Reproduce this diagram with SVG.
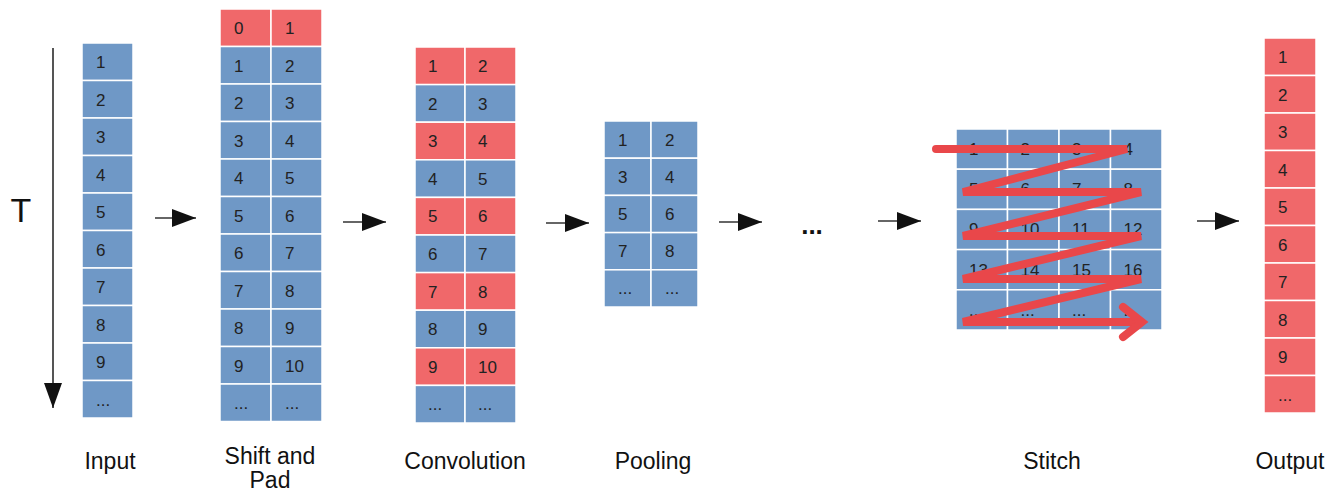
<svg xmlns="http://www.w3.org/2000/svg" width="1329" height="493" viewBox="0 0 1329 493">
<style>
.b{fill:#6f98c6;stroke:#fff;stroke-width:1.5}
.r{fill:#f0686a;stroke:#fff;stroke-width:1.5}
.n{font-family:"Liberation Sans",Arial,sans-serif;font-size:17px;fill:#222}
.lb{font-family:"Liberation Sans",Arial,sans-serif;font-size:23px;fill:#111;text-anchor:middle}
.ar{stroke:#333;stroke-width:1.6;fill:none;marker-end:url(#ah)}
.zz{fill:none;stroke:#e9474a;stroke-width:8;stroke-linejoin:miter;stroke-linecap:round}
</style>
<defs>
<marker id="ah" markerUnits="userSpaceOnUse" markerWidth="25" markerHeight="18" refX="24" refY="9" orient="auto">
<path d="M0,0 L24,9 L0,18 z" fill="#111"/>
</marker>
<marker id="ahT" markerUnits="userSpaceOnUse" markerWidth="26" markerHeight="18" refX="25" refY="9" orient="auto">
<path d="M0,0 L25,9 L0,18 z" fill="#111"/>
</marker>
</defs>
<rect width="1329" height="493" fill="#fff"/>

<g id="time-axis">
<line x1="53" y1="48" x2="53" y2="408" stroke="#555" stroke-width="2" marker-end="url(#ahT)"/>
<text x="21" y="222" font-family="Liberation Sans,Arial,sans-serif" font-size="34" fill="#111" text-anchor="middle">T</text>
</g>

<g id="input">
<rect class="b" x="82" y="43" width="51" height="37.5"/>
<rect class="b" x="82" y="80.5" width="51" height="37.5"/>
<rect class="b" x="82" y="118" width="51" height="37.5"/>
<rect class="b" x="82" y="155.5" width="51" height="37.5"/>
<rect class="b" x="82" y="193" width="51" height="37.5"/>
<rect class="b" x="82" y="230.5" width="51" height="37.5"/>
<rect class="b" x="82" y="268" width="51" height="37.5"/>
<rect class="b" x="82" y="305.5" width="51" height="37.5"/>
<rect class="b" x="82" y="343" width="51" height="37.5"/>
<rect class="b" x="82" y="380.5" width="51" height="37.5"/>
<g class="n">
<text x="96" y="68">1</text><text x="96" y="105.5">2</text><text x="96" y="143">3</text><text x="96" y="180.5">4</text><text x="96" y="218">5</text>
<text x="96" y="255.5">6</text><text x="96" y="293">7</text><text x="96" y="330.5">8</text><text x="96" y="368">9</text><text x="96" y="405.5">...</text>
</g>
<text class="lb" x="110" y="469">Input</text>
</g>

<g id="shift-and-pad">
<rect class="r" x="220" y="9" width="51" height="37.5"/><rect class="r" x="271" y="9" width="51" height="37.5"/>
<rect class="b" x="220" y="46.5" width="51" height="37.5"/><rect class="b" x="271" y="46.5" width="51" height="37.5"/>
<rect class="b" x="220" y="84" width="51" height="37.5"/><rect class="b" x="271" y="84" width="51" height="37.5"/>
<rect class="b" x="220" y="121.5" width="51" height="37.5"/><rect class="b" x="271" y="121.5" width="51" height="37.5"/>
<rect class="b" x="220" y="159" width="51" height="37.5"/><rect class="b" x="271" y="159" width="51" height="37.5"/>
<rect class="b" x="220" y="196.5" width="51" height="37.5"/><rect class="b" x="271" y="196.5" width="51" height="37.5"/>
<rect class="b" x="220" y="234" width="51" height="37.5"/><rect class="b" x="271" y="234" width="51" height="37.5"/>
<rect class="b" x="220" y="271.5" width="51" height="37.5"/><rect class="b" x="271" y="271.5" width="51" height="37.5"/>
<rect class="b" x="220" y="309" width="51" height="37.5"/><rect class="b" x="271" y="309" width="51" height="37.5"/>
<rect class="b" x="220" y="346.5" width="51" height="37.5"/><rect class="b" x="271" y="346.5" width="51" height="37.5"/>
<rect class="b" x="220" y="384" width="51" height="37.5"/><rect class="b" x="271" y="384" width="51" height="37.5"/>
<g class="n">
<text x="234" y="34">0</text><text x="285" y="34">1</text>
<text x="234" y="71.5">1</text><text x="285" y="71.5">2</text>
<text x="234" y="109">2</text><text x="285" y="109">3</text>
<text x="234" y="146.5">3</text><text x="285" y="146.5">4</text>
<text x="234" y="184">4</text><text x="285" y="184">5</text>
<text x="234" y="221.5">5</text><text x="285" y="221.5">6</text>
<text x="234" y="259">6</text><text x="285" y="259">7</text>
<text x="234" y="296.5">7</text><text x="285" y="296.5">8</text>
<text x="234" y="334">8</text><text x="285" y="334">9</text>
<text x="234" y="371.5">9</text><text x="285" y="371.5">10</text>
<text x="234" y="409">...</text><text x="285" y="409">...</text>
</g>
<text class="lb" x="270" y="464" font-size="22">Shift and</text>
<text class="lb" x="270" y="488" font-size="22">Pad</text>
</g>

<g id="convolution">
<rect class="r" x="415" y="47" width="50" height="37.6"/><rect class="r" x="465" y="47" width="51" height="37.6"/>
<rect class="b" x="415" y="84.6" width="50" height="37.6"/><rect class="b" x="465" y="84.6" width="51" height="37.6"/>
<rect class="r" x="415" y="122.2" width="50" height="37.6"/><rect class="r" x="465" y="122.2" width="51" height="37.6"/>
<rect class="b" x="415" y="159.8" width="50" height="37.6"/><rect class="b" x="465" y="159.8" width="51" height="37.6"/>
<rect class="r" x="415" y="197.4" width="50" height="37.6"/><rect class="r" x="465" y="197.4" width="51" height="37.6"/>
<rect class="b" x="415" y="235" width="50" height="37.6"/><rect class="b" x="465" y="235" width="51" height="37.6"/>
<rect class="r" x="415" y="272.6" width="50" height="37.6"/><rect class="r" x="465" y="272.6" width="51" height="37.6"/>
<rect class="b" x="415" y="310.2" width="50" height="37.6"/><rect class="b" x="465" y="310.2" width="51" height="37.6"/>
<rect class="r" x="415" y="347.8" width="50" height="37.6"/><rect class="r" x="465" y="347.8" width="51" height="37.6"/>
<rect class="b" x="415" y="385.4" width="50" height="37.6"/><rect class="b" x="465" y="385.4" width="51" height="37.6"/>
<g class="n">
<text x="428" y="72">1</text><text x="478" y="72">2</text>
<text x="428" y="109.6">2</text><text x="478" y="109.6">3</text>
<text x="428" y="147.2">3</text><text x="478" y="147.2">4</text>
<text x="428" y="184.8">4</text><text x="478" y="184.8">5</text>
<text x="428" y="222.4">5</text><text x="478" y="222.4">6</text>
<text x="428" y="260">6</text><text x="478" y="260">7</text>
<text x="428" y="297.6">7</text><text x="478" y="297.6">8</text>
<text x="428" y="335.2">8</text><text x="478" y="335.2">9</text>
<text x="428" y="372.8">9</text><text x="478" y="372.8">10</text>
<text x="428" y="410.4">...</text><text x="478" y="410.4">...</text>
</g>
<text class="lb" x="465" y="469">Convolution</text>
</g>

<g id="pooling">
<rect class="b" x="604" y="121" width="47" height="37.2"/><rect class="b" x="651" y="121" width="47" height="37.2"/>
<rect class="b" x="604" y="158.2" width="47" height="37.2"/><rect class="b" x="651" y="158.2" width="47" height="37.2"/>
<rect class="b" x="604" y="195.4" width="47" height="37.2"/><rect class="b" x="651" y="195.4" width="47" height="37.2"/>
<rect class="b" x="604" y="232.6" width="47" height="37.2"/><rect class="b" x="651" y="232.6" width="47" height="37.2"/>
<rect class="b" x="604" y="269.8" width="47" height="37.2"/><rect class="b" x="651" y="269.8" width="47" height="37.2"/>
<g class="n">
<text x="618" y="145.6">1</text><text x="665" y="145.6">2</text>
<text x="618" y="182.8">3</text><text x="665" y="182.8">4</text>
<text x="618" y="220">5</text><text x="665" y="220">6</text>
<text x="618" y="257.2">7</text><text x="665" y="257.2">8</text>
<text x="618" y="294.4">...</text><text x="665" y="294.4">...</text>
</g>
<text class="lb" x="653" y="469">Pooling</text>
</g>

<g id="ellipsis">
<text x="812" y="234" font-family="Liberation Sans,Arial,sans-serif" font-size="26" font-weight="bold" fill="#111" text-anchor="middle">...</text>
</g>

<g id="stitch">
<rect class="b" x="956" y="129" width="51.5" height="40.2"/><rect class="b" x="1007.5" y="129" width="51.5" height="40.2"/><rect class="b" x="1059" y="129" width="51.5" height="40.2"/><rect class="b" x="1110.5" y="129" width="51.5" height="40.2"/>
<rect class="b" x="956" y="169.2" width="51.5" height="40.2"/><rect class="b" x="1007.5" y="169.2" width="51.5" height="40.2"/><rect class="b" x="1059" y="169.2" width="51.5" height="40.2"/><rect class="b" x="1110.5" y="169.2" width="51.5" height="40.2"/>
<rect class="b" x="956" y="209.4" width="51.5" height="40.2"/><rect class="b" x="1007.5" y="209.4" width="51.5" height="40.2"/><rect class="b" x="1059" y="209.4" width="51.5" height="40.2"/><rect class="b" x="1110.5" y="209.4" width="51.5" height="40.2"/>
<rect class="b" x="956" y="249.6" width="51.5" height="40.2"/><rect class="b" x="1007.5" y="249.6" width="51.5" height="40.2"/><rect class="b" x="1059" y="249.6" width="51.5" height="40.2"/><rect class="b" x="1110.5" y="249.6" width="51.5" height="40.2"/>
<rect class="b" x="956" y="289.8" width="51.5" height="40.2"/><rect class="b" x="1007.5" y="289.8" width="51.5" height="40.2"/><rect class="b" x="1059" y="289.8" width="51.5" height="40.2"/><rect class="b" x="1110.5" y="289.8" width="51.5" height="40.2"/>
<g class="n">
<text x="969" y="155">1</text><text x="1020.5" y="155">2</text><text x="1072" y="155">3</text><text x="1123.5" y="155">4</text>
<text x="969" y="195.2">5</text><text x="1020.5" y="195.2">6</text><text x="1072" y="195.2">7</text><text x="1123.5" y="195.2">8</text>
<text x="969" y="235.4">9</text><text x="1020.5" y="235.4">10</text><text x="1072" y="235.4">11</text><text x="1123.5" y="235.4">12</text>
<text x="969" y="275.6">13</text><text x="1020.5" y="275.6">14</text><text x="1072" y="275.6">15</text><text x="1123.5" y="275.6">16</text>
<text x="969" y="315.8">...</text><text x="1020.5" y="315.8">...</text><text x="1072" y="315.8">...</text><text x="1123.5" y="315.8">...</text>
</g>
<path class="zz" d="M936,149 L1127,149 L963,192 L1141,192 L963,236 L1141,236 L963,279 L1141,279 L963,322 L1140,322"/>
<path class="zz" d="M1123,307 L1142,322 L1123,337"/>
<text class="lb" x="1052" y="469">Stitch</text>
</g>

<g id="output">
<rect class="r" x="1264" y="38" width="52" height="37.5"/>
<rect class="r" x="1264" y="75.5" width="52" height="37.5"/>
<rect class="r" x="1264" y="113" width="52" height="37.5"/>
<rect class="r" x="1264" y="150.5" width="52" height="37.5"/>
<rect class="r" x="1264" y="188" width="52" height="37.5"/>
<rect class="r" x="1264" y="225.5" width="52" height="37.5"/>
<rect class="r" x="1264" y="263" width="52" height="37.5"/>
<rect class="r" x="1264" y="300.5" width="52" height="37.5"/>
<rect class="r" x="1264" y="338" width="52" height="37.5"/>
<rect class="r" x="1264" y="375.5" width="52" height="37.5"/>
<g class="n">
<text x="1278" y="63">1</text><text x="1278" y="100.5">2</text><text x="1278" y="138">3</text><text x="1278" y="175.5">4</text><text x="1278" y="213">5</text>
<text x="1278" y="250.5">6</text><text x="1278" y="288">7</text><text x="1278" y="325.5">8</text><text x="1278" y="363">9</text><text x="1278" y="400.5">...</text>
</g>
<text class="lb" x="1290" y="469">Output</text>
</g>

<g id="connectors">
<line class="ar" x1="155" y1="218" x2="196" y2="218"/>
<line class="ar" x1="343" y1="222" x2="386" y2="222"/>
<line class="ar" x1="546" y1="223" x2="589" y2="223"/>
<line class="ar" x1="719" y1="222" x2="762" y2="222"/>
<line class="ar" x1="878" y1="221" x2="921" y2="221"/>
<line class="ar" x1="1197" y1="221" x2="1239" y2="221"/>
</g>
</svg>
